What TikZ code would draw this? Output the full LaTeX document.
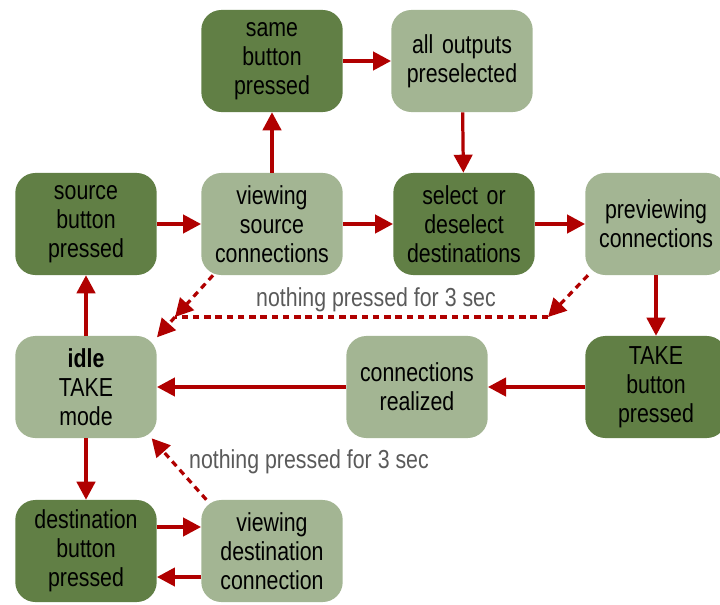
\documentclass[tikz,border=0pt]{standalone}
\usepackage{fontspec}
\setmainfont[FakeStretch=0.82]{Liberation Sans}
\usepackage{tikz}
\usetikzlibrary{shapes,positioning,calc}
\usetikzlibrary{arrows.meta}
\definecolor{darkgreen}{HTML}{617F45}
\definecolor{lightgreen}{HTML}{A3B593}
\definecolor{arrowred}{HTML}{B00000}
\definecolor{notegray}{HTML}{5A5A5A}
\tikzstyle{darkstate} = [rectangle, rounded corners=0.5cm, minimum width=3.45cm, minimum height=2.55cm, text width=3.3cm, align=center, fill=darkgreen, font=\fontsize{18.5}{20.5}\selectfont]
\tikzstyle{lightstate} = [darkstate, fill=lightgreen]
\tikzstyle{arrow} = [line width=2.3pt, draw=arrowred, -{Triangle[length=0.45cm, width=0.46cm]}]
\tikzstyle{dasharrow} = [arrow, dash pattern=on 4.5pt off 3.5pt]
\tikzstyle{dashline} = [line width=2.3pt, draw=arrowred, dash pattern=on 4.5pt off 3.5pt]
\tikzstyle{note} = [text=notegray, font=\fontsize{18.5}{20}\selectfont]

\begin{document}
\begin{tikzpicture}[x=0.025cm, y=-0.025cm]
				\useasboundingbox (0,0) rectangle (720,604);
				\node (src) at (86,224) [darkstate] {source\\button\\pressed};
				\node (vsrc) at (272,224) [lightstate] {viewing\\source\\connections};
				\node (same) at (272,61) [darkstate] {same\\button\\pressed};
				\node (allout) at (462,61) [lightstate] {all outputs\\preselected};
				\node (sel) at (464,224) [darkstate] {select or\\deselect\\destinations};
				\node (prev) at (656,224) [lightstate] {previewing\\connections};
				\node (take) at (656,387) [darkstate] {TAKE\\button\\pressed};
				\node (real) at (417,387) [lightstate] {connections\\realized};
				\node (idle) at (86,387) [lightstate] {\textbf{idle}\\TAKE\\mode};
				\node (dst) at (86,551) [darkstate] {destination\\button\\pressed};
				\node (vdst) at (272,551) [lightstate] {viewing\\destination\\connection};
				\coordinate (p) at (548,317);
				\coordinate (q) at (175,317);
				\node[note] (n1) at (376,300) {nothing pressed for 3 sec};
				\node[note] (n2) at (309,462) {nothing pressed for 3 sec};
				\draw[arrow] (idle) -- (src);
				\draw[arrow] (src) -- (vsrc);
				\draw[arrow] (vsrc) -- (same);
				\draw[arrow] (same) -- (allout);
				\draw[arrow] (allout) -- (sel);
				\draw[arrow] (vsrc) -- (sel);
				\draw[arrow] (sel) -- (prev);
				\draw[arrow] (prev) -- (take);
				\draw[arrow] (take) -- (real);
				\draw[arrow] (real) -- (idle);
				\draw[arrow] (idle) -- (dst);
				\draw[arrow] ([yshift=0.6cm]dst.east) -- ([yshift=0.6cm]vdst.west);
				\draw[arrow] ([yshift=-0.65cm]vdst.west) -- ([yshift=-0.65cm]dst.east);
				\draw[dasharrow] (prev.217) -- (p);
				\draw[dashline] (p) -- (q);
				\draw[dasharrow] (vsrc.221) -- (q);
				\draw[dasharrow] (q) -- (idle.35);
				\draw[dasharrow] (vdst.142) -- (idle.-38);
				\end{tikzpicture}
\end{document}
